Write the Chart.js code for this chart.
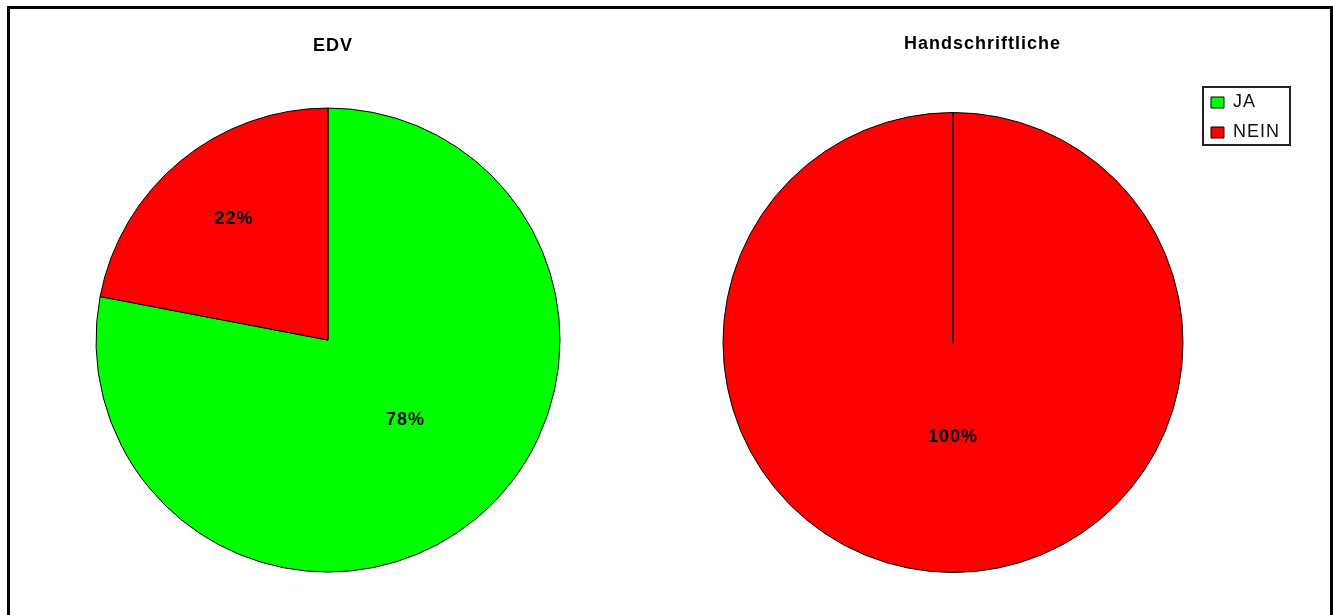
<!DOCTYPE html>
<html>
<head>
<meta charset="utf-8">
<script src="https://cdn.jsdelivr.net/npm/chart.js@4.4.1/dist/chart.umd.min.js"></script>
<style>
  html, body { margin: 0; padding: 0; background: #fff; overflow: hidden; }
  body { width: 1333px; height: 615px; position: relative; }
  #frame { position: absolute; left: 7px; top: 6px; width: 1326px; height: 630px;
           box-sizing: border-box; border: 3px solid #000; border-bottom: none; }
  .box { position: absolute; top: 9px; height: 606px; }
  #left { left: 12px; width: 642px; }
  #right { left: 654px; width: 657px; }
</style>
</head>
<body>
<div id="frame"></div>
<div class="box" id="left"><canvas id="edv"></canvas></div>
<div class="box" id="right"><canvas id="hand"></canvas></div>
<script>
// Survey answers in percent
const categories = ['JA', 'NEIN'];
const edvValues = [78, 22];
const handValues = [0, 100];
const chartTitles = ['EDV', 'Handschriftliche'];
const sliceColors = ['#00FF00', '#FF0000'];

const FONT = '"Liberation Sans", Arial, Helvetica, sans-serif';

// Slightly spaced lettering for all canvas text
const letterSpacing = {
  id: 'letterSpacing',
  beforeLayout(chart) { chart.ctx.letterSpacing = '1px'; },
  beforeDraw(chart) { chart.ctx.letterSpacing = '1px'; }
};

// Centre the title over the whole canvas rather than over the padded area
const titleSpan = {
  id: 'titleSpan',
  afterLayout(chart) {
    const t = chart.titleBlock;
    if (!t) return;
    t.left = 0;
    t.right = chart.width;
  }
};

// Percent labels inside the slices
const sliceLabels = {
  id: 'sliceLabels',
  afterDatasetsDraw(chart, args, opts) {
    const ctx = chart.ctx;
    const meta = chart.getDatasetMeta(0);
    const values = chart.data.datasets[0].data;
    const total = values.reduce((a, b) => a + b, 0);
    ctx.save();
    ctx.letterSpacing = '1px';
    ctx.font = 'bold 18px ' + FONT;
    ctx.fillStyle = '#000';
    ctx.textAlign = 'center';
    ctx.textBaseline = 'middle';
    meta.data.forEach((arc, i) => {
      const v = values[i];
      if (!v) return;
      const p = arc.getProps(['x', 'y', 'startAngle', 'endAngle', 'outerRadius'], true);
      const mid = (p.startAngle + p.endAngle) / 2 + opts.turn[i];
      const r = p.outerRadius * opts.radii[i];
      ctx.fillText(Math.round(v / total * 100) + '%', p.x + Math.cos(mid) * r, p.y + Math.sin(mid) * r);
    });
    ctx.restore();
  }
};

// Thin frame around the legend entries
const legendFrame = {
  id: 'legendFrame',
  afterDraw(chart) {
    const boxes = chart.legend && chart.legend.legendHitBoxes;
    if (!boxes || !boxes.length) return;
    let l = Infinity, t = Infinity, r = -Infinity, b = -Infinity;
    boxes.forEach(h => {
      l = Math.min(l, h.left); t = Math.min(t, h.top);
      r = Math.max(r, h.left + h.width); b = Math.max(b, h.top + h.height);
    });
    const ctx = chart.ctx;
    ctx.save();
    ctx.strokeStyle = '#222';
    ctx.lineWidth = 2;
    ctx.strokeRect(l - 8, t - 6.5, (r - l) + 18, (b - t) + 10);
    ctx.restore();
  }
};

function pieConfig(title, values, opts) {
  return {
    type: 'pie',
    data: {
      labels: categories,
      datasets: [{
        data: values,
        backgroundColor: sliceColors,
        borderColor: '#000',
        borderWidth: 1
      }]
    },
    options: {
      responsive: true,
      maintainAspectRatio: false,
      animation: false,
      events: [],
      radius: opts.radius,
      layout: { padding: opts.layoutPadding },
      plugins: {
        title: {
          display: true,
          text: title,
          color: '#000',
          font: { family: FONT, size: 18, weight: 'bold' },
          padding: opts.titlePadding
        },
        legend: opts.legend,
        tooltip: { enabled: false },
        sliceLabels: { radii: opts.labelRadii, turn: opts.labelTurn }
      }
    },
    plugins: opts.plugins
  };
}

new Chart(document.getElementById('edv'), pieConfig(chartTitles[0], edvValues, {
  radius: 232,
  layoutPadding: { left: 0, right: 10, top: 0, bottom: 16 },
  titlePadding: { top: 26, bottom: 24.5 },
  legend: { display: false },
  labelRadii: [0.48, 0.66],
  labelTurn: [-0.08, 0.03],
  plugins: [letterSpacing, titleSpan, sliceLabels]
}));

new Chart(document.getElementById('hand'), pieConfig(chartTitles[1], handValues, {
  radius: 230,
  layoutPadding: { left: 53, right: 21, top: 0, bottom: 11.5 },
  titlePadding: { top: 24.2, bottom: 26.7 },
  legend: {
    display: true,
    position: 'right',
    align: 'start',
    fullSize: false,
    labels: {
      boxWidth: 13,
      boxHeight: 11,
      padding: 12,
      color: '#111',
      font: { family: FONT, size: 18 }
    }
  },
  labelRadii: [0.41, 0.41],
  labelTurn: [0, 0],
  plugins: [letterSpacing, titleSpan, sliceLabels, legendFrame]
}));
</script>
</body>
</html>
